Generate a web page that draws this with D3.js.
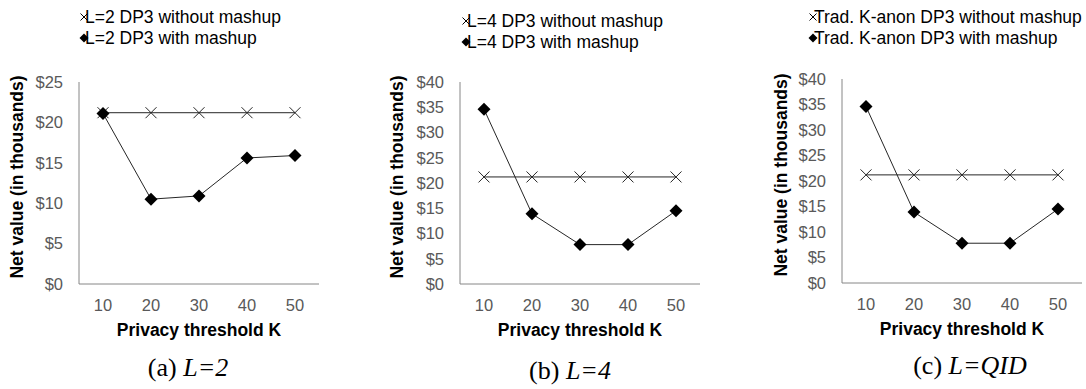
<!DOCTYPE html>
<html>
<head>
<meta charset="utf-8">
<script src="https://cdn.jsdelivr.net/npm/d3@7"></script>
<style>
  body { margin: 0; background: #fff; }
  svg { display: block; }
</style>
</head>
<body>
<svg id="chart" width="1086" height="389"></svg>
<script>
// Data
var kValues = ["10", "20", "30", "40", "50"];

var withoutL2 = [21.2, 21.2, 21.2, 21.2, 21.2];
var withL2 = [21.1, 10.5, 10.9, 15.6, 15.9];

var withoutL4 = [21.2, 21.2, 21.2, 21.2, 21.2];
var withL4 = [34.6, 13.9, 7.8, 7.8, 14.5];

var withoutQID = [21.2, 21.2, 21.2, 21.2, 21.2];
var withQID = [34.6, 13.9, 7.8, 7.8, 14.5];

var yMaxes = [25, 40, 40];
var legendNames = [
    ["L=2 DP3 without mashup", "L=2 DP3 with mashup"],
    ["L=4 DP3 without mashup", "L=4 DP3 with mashup"],
    ["Trad. K-anon DP3 without mashup", "Trad. K-anon DP3 with mashup"]
];
var captionPrefix = ["(a) ", "(b) ", "(c) "];
var captionItalic = ["L=2", "L=4", "L=QID"];

var svg = d3.select("#chart");

// layout of each panel (plot area left/top/bottom, legend anchor, caption centre)
var panels = [
    { left: 79, top: 82, bottom: 284, legX: 80, legY: 17, yTitleX: 17, capX: 188, capY: 376 },
    { left: 460, top: 82, bottom: 284, legX: 462, legY: 21, yTitleX: 397, capX: 570, capY: 379 },
    { left: 842, top: 79, bottom: 283, legX: 809, legY: 17, yTitleX: 781, capX: 970, capY: 374 }
];
var series = [
    [withoutL2, withL2],
    [withoutL4, withL4],
    [withoutQID, withQID]
];

var plotWidth = 240;
var lineColor = "#262626";
var axisColor = "#868686";
var tickColor = "#595959";
var sans = "Liberation Sans, Arial, sans-serif";

function crossPath(s) {
    return "M" + (-s) + "," + (-s) + "L" + s + "," + s + "M" + (-s) + "," + s + "L" + s + "," + (-s);
}
function diamondPath(s) {
    return "M0," + (-s) + "L" + s + ",0L0," + s + "L" + (-s) + ",0Z";
}

panels.forEach(function(p, i) {
    var g = svg.append("g");

    var x = d3.scaleBand()
        .domain(kValues)
        .range([p.left, p.left + plotWidth]);

    var y = d3.scaleLinear()
        .domain([0, yMaxes[i]])
        .range([p.bottom, p.top]);

    // axes lines
    g.append("line")
        .attr("x1", p.left).attr("x2", p.left)
        .attr("y1", p.top).attr("y2", p.bottom)
        .attr("stroke", axisColor).attr("stroke-width", 1);
    g.append("line")
        .attr("x1", p.left).attr("x2", p.left + plotWidth)
        .attr("y1", p.bottom).attr("y2", p.bottom)
        .attr("stroke", axisColor).attr("stroke-width", 1);

    // y tick labels
    g.selectAll(".ytick")
        .data(y.ticks(yMaxes[i] / 5))
        .enter().append("text")
        .attr("x", p.left - 16)
        .attr("y", function(d) { return y(d); })
        .attr("dy", "0.35em")
        .attr("text-anchor", "end")
        .attr("font-family", sans)
        .attr("font-size", 16.5)
        .attr("fill", tickColor)
        .text(function(d) { return "$" + d; });

    // x tick labels
    g.selectAll(".xtick")
        .data(kValues)
        .enter().append("text")
        .attr("x", function(d) { return x(d) + x.bandwidth() / 2; })
        .attr("y", p.bottom + 27)
        .attr("text-anchor", "middle")
        .attr("font-family", sans)
        .attr("font-size", 16.5)
        .attr("fill", tickColor)
        .text(function(d) { return d; });

    // axis titles
    g.append("text")
        .attr("x", p.left + plotWidth / 2)
        .attr("y", p.bottom + 52)
        .attr("text-anchor", "middle")
        .attr("font-family", sans)
        .attr("font-size", 17.5)
        .attr("font-weight", "bold")
        .attr("fill", "#000")
        .text("Privacy threshold K");

    g.append("text")
        .attr("transform", "translate(" + p.yTitleX + "," + ((p.top + p.bottom) / 2 - 6) + ") rotate(-90)")
        .attr("dy", "0.35em")
        .attr("text-anchor", "middle")
        .attr("font-family", sans)
        .attr("font-size", 17.5)
        .attr("font-weight", "bold")
        .attr("fill", "#000")
        .text("Net value (in thousands)");

    var line = d3.line()
        .x(function(d, j) { return x(kValues[j]) + x.bandwidth() / 2; })
        .y(function(d) { return y(d); });

    var without = series[i][0];
    var withM = series[i][1];

    // without mashup: line + crosses
    g.append("path")
        .attr("d", line(without))
        .attr("fill", "none")
        .attr("stroke", lineColor)
        .attr("stroke-width", 1);
    g.selectAll(".cross")
        .data(without)
        .enter().append("path")
        .attr("transform", function(d, j) {
            return "translate(" + (x(kValues[j]) + x.bandwidth() / 2) + "," + y(d) + ")";
        })
        .attr("d", crossPath(5.5))
        .attr("stroke", lineColor)
        .attr("stroke-width", 1)
        .attr("fill", "none");

    // with mashup: line + diamonds
    g.append("path")
        .attr("d", line(withM))
        .attr("fill", "none")
        .attr("stroke", lineColor)
        .attr("stroke-width", 1);
    g.selectAll(".diamond")
        .data(withM)
        .enter().append("path")
        .attr("transform", function(d, j) {
            return "translate(" + (x(kValues[j]) + x.bandwidth() / 2) + "," + y(d) + ")";
        })
        .attr("d", diamondPath(6.5))
        .attr("fill", "#000");

    // legend
    var leg = g.append("g").attr("transform", "translate(" + p.legX + "," + p.legY + ")");
    leg.append("path")
        .attr("transform", "translate(4,0)")
        .attr("d", crossPath(3.5))
        .attr("stroke", "#000")
        .attr("fill", "none");
    leg.append("path")
        .attr("transform", "translate(4,21)")
        .attr("d", diamondPath(4.5))
        .attr("fill", "#000");
    leg.selectAll("text")
        .data(legendNames[i])
        .enter().append("text")
        .attr("x", 5)
        .attr("y", function(d, j) { return j * 21; })
        .attr("dy", "0.35em")
        .attr("font-family", sans)
        .attr("font-size", 17.5)
        .attr("fill", "#000")
        .text(function(d) { return d; });

    // caption
    var cap = g.append("text")
        .attr("x", p.capX)
        .attr("y", p.capY)
        .attr("text-anchor", "middle")
        .attr("font-family", "Liberation Serif, Times New Roman, serif")
        .attr("font-size", 26)
        .attr("fill", "#000");
    cap.append("tspan").text(captionPrefix[i]);
    cap.append("tspan").attr("font-style", "italic").text(captionItalic[i]);
});
</script>
</body>
</html>
